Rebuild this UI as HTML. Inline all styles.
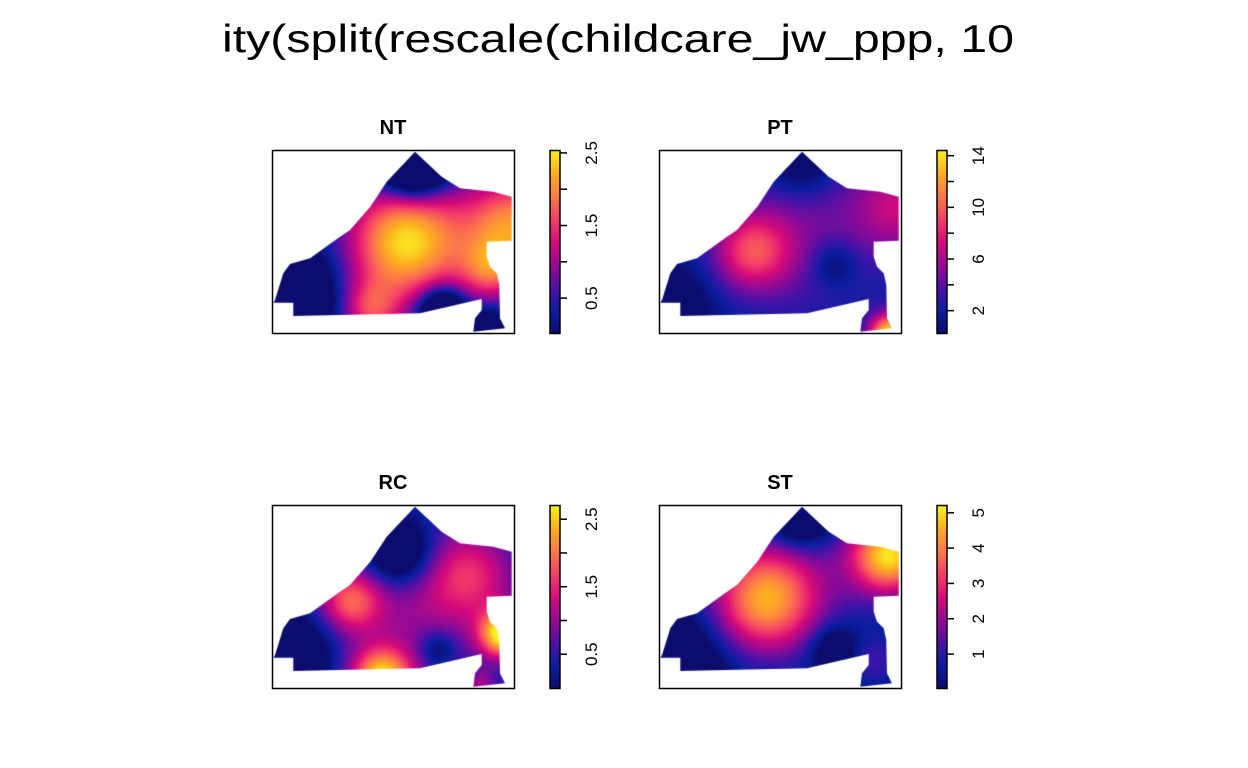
<!DOCTYPE html>
<html><head><meta charset="utf-8">
<style>
html,body{margin:0;padding:0;background:#fff;}
#root{position:relative;width:1248px;height:768px;overflow:hidden;font-family:"Liberation Sans",sans-serif;}
canvas{position:absolute;}
</style></head>
<body>
<div id="root">
<svg id="svg" width="1248" height="768" style="position:absolute;left:0;top:0">
<text x="222" y="52" font-size="39" textLength="792" lengthAdjust="spacingAndGlyphs" font-family="Liberation Sans, sans-serif" fill="#000">ity(split(rescale(childcare_jw_ppp, 10</text>
</svg>
</div>
<script>
// Panel data
const panelNames = ["NT","PT","RC","ST"];
const panelOrigins = [[272,150],[659,150],[272,505],[659,505]];
const legendDomains = [[0.02,2.54],[0.27,14.44],[0.0,2.71],[0.04,5.22]];
const legendTicks = [[0.5,1,1.5,2,2.5],[2,4,6,8,10,12,14],[0.5,1,1.5,2,2.5],[1,2,3,4,5]];
const legendLabels = [["0.5","","1.5","","2.5"],["2","","6","","10","","14"],["0.5","","1.5","","2.5"],["1","2","3","4","5"]];
const baseValues = [0.05,1.0,0.2,0.1];
// bumps: [u, v, amplitude, sigma]
const bumpsNT = [[0.55,0.5,2.4,0.24],[1.0,0.4,1.9,0.2],[0.9,0.66,1.1,0.12],[0.4,0.88,1.2,0.12],[0.7,0.88,-2.2,0.08],[0.58,0.05,-3.0,0.12],[0.05,0.8,-1.5,0.18],[0.88,0.98,-1.2,0.07]];
const bumpsPT = [[0.38,0.55,6.5,0.15],[0.6,0.45,3.5,0.35],[1.0,0.3,5,0.18],[0.95,1.0,13,0.08],[0.72,0.62,-3,0.09],[0.58,0.05,-4,0.13],[0.05,0.85,-3,0.15]];
const bumpsRC = [[0.6,0.5,0.8,0.35],[0.32,0.52,1.3,0.12],[0.82,0.38,0.9,0.17],[0.45,0.95,2.3,0.12],[0.95,0.7,2.4,0.09],[0.52,0.25,-1.5,0.13],[0.08,0.8,-1.0,0.15],[0.68,0.78,-0.7,0.07],[0.86,0.98,0.7,0.06]];
const bumpsST = [[0.43,0.52,3.5,0.2],[0.55,0.4,1.2,0.3],[0.95,0.27,4.8,0.15],[0.58,0.05,-2.5,0.12],[0.72,0.78,-1.5,0.09],[0.88,0.85,1.0,0.1],[0.08,0.85,-1.5,0.17]];
const panelBumps = [bumpsNT,bumpsPT,bumpsRC,bumpsST];

const W=242,H=183;
const shape=[[143,1.7],[114.7,31.7],[98.3,56.7],[78,80],[68,86.7],[38,108.3],[18,114],[11.3,123.3],[3,150],[1.3,152.7],[21.3,152.7],[21.3,166],[148,163.3],[209.7,149],[209.7,160],[203,168.3],[201.3,181.7],[233,178.3],[228,168.3],[227.3,135],[224.7,123.3],[218,116.7],[214.7,106.7],[214.7,91.7],[239.7,90.7],[239.7,46.7],[221.3,41.7],[188,38.3],[169.7,26.7]];
const stops=[[0,[12,12,110]],[0.12,[10,30,160]],[0.22,[60,20,168]],[0.35,[138,10,152]],[0.5,[214,10,122]],[0.62,[244,61,104]],[0.75,[251,122,72]],[0.88,[253,176,32]],[1,[248,240,32]]];
function cmap(t){t=Math.max(0,Math.min(1,t));for(let i=1;i<stops.length;i++){if(t<=stops[i][0]){const a=stops[i-1],b=stops[i];const f=(t-a[0])/(b[0]-a[0]);return a[1].map((c,k)=>Math.round(c+(b[1][k]-c)*f));}}return stops[stops.length-1][1];}
const NS="http://www.w3.org/2000/svg";
const svg=document.getElementById('svg');
const root=document.getElementById('root');
function mk(tag,attrs,parent){const e=document.createElementNS(NS,tag);for(const k in attrs)e.setAttribute(k,attrs[k]);(parent||svg).appendChild(e);return e;}

panelNames.forEach((name,p)=>{
  const [ox,oy]=panelOrigins[p];const dom=legendDomains[p];const bumps=panelBumps[p];
  const cv=document.createElement('canvas');cv.width=W;cv.height=H;cv.style.left=ox+'px';cv.style.top=oy+'px';
  
  
  root.insertBefore(cv,svg);
  const ctx=cv.getContext('2d');
  ctx.beginPath();shape.forEach((pt,i)=>i?ctx.lineTo(pt[0],pt[1]):ctx.moveTo(pt[0],pt[1]));ctx.closePath();ctx.clip();
  const cell=2;
  for(let y=0;y<H;y+=cell)for(let x=0;x<W;x+=cell){
    const u=x/W,v=y/H;let val=baseValues[p];
    bumps.forEach(b=>{const du=(u-b[0])*1.32,dv=v-b[1];val+=b[2]*Math.exp(-(du*du+dv*dv)/(2*b[3]*b[3]));});
    const c=cmap((val-dom[0])/(dom[1]-dom[0]));
    ctx.fillStyle=`rgb(${c[0]},${c[1]},${c[2]})`;ctx.fillRect(x,y,cell,cell);
  }
  const g=mk('g',{});
  
  
  const fr=mk('rect',{x:ox+0.5,y:oy+0.5,width:W,height:H,fill:'none',stroke:'#000','stroke-width':1.5},g);
  
  
  const t=mk('text',{x:ox+121,y:oy-16,'text-anchor':'middle','font-size':20,'font-weight':'bold','font-family':'Liberation Sans, sans-serif'},g);
  t.textContent=name;
  
  
  // legend
  const lx=ox+278;const lg=mk('g',{},g);
  
  
  const N=60;const hb=H/N;
  for(let i=0;i<N;i++){const c=cmap((i+0.5)/N);const r=mk('rect',{x:lx,y:oy+H-(i+1)*hb,width:10,height:hb+0.6,fill:`rgb(${c[0]},${c[1]},${c[2]})`},lg);
    
    }
  mk('rect',{x:lx,y:oy+0.5,width:10,height:H,fill:'none',stroke:'#000','stroke-width':1.5},lg);
  legendTicks[p].forEach((tv,i)=>{
    const ty=oy+H-(tv-dom[0])/(dom[1]-dom[0])*H;
    const tk=mk('line',{x1:lx+10,x2:lx+17,y1:ty,y2:ty,stroke:'#000','stroke-width':1.5},lg);
    
    
    if(legendLabels[p][i]){
      const tl=mk('text',{x:0,y:0,'text-anchor':'middle','font-size':17,'font-family':'Liberation Sans, sans-serif',transform:`translate(${lx+47},${ty}) rotate(-90)`},lg);
      tl.textContent=legendLabels[p][i];
      
      
    }
  });
});
</script>
</body></html>
